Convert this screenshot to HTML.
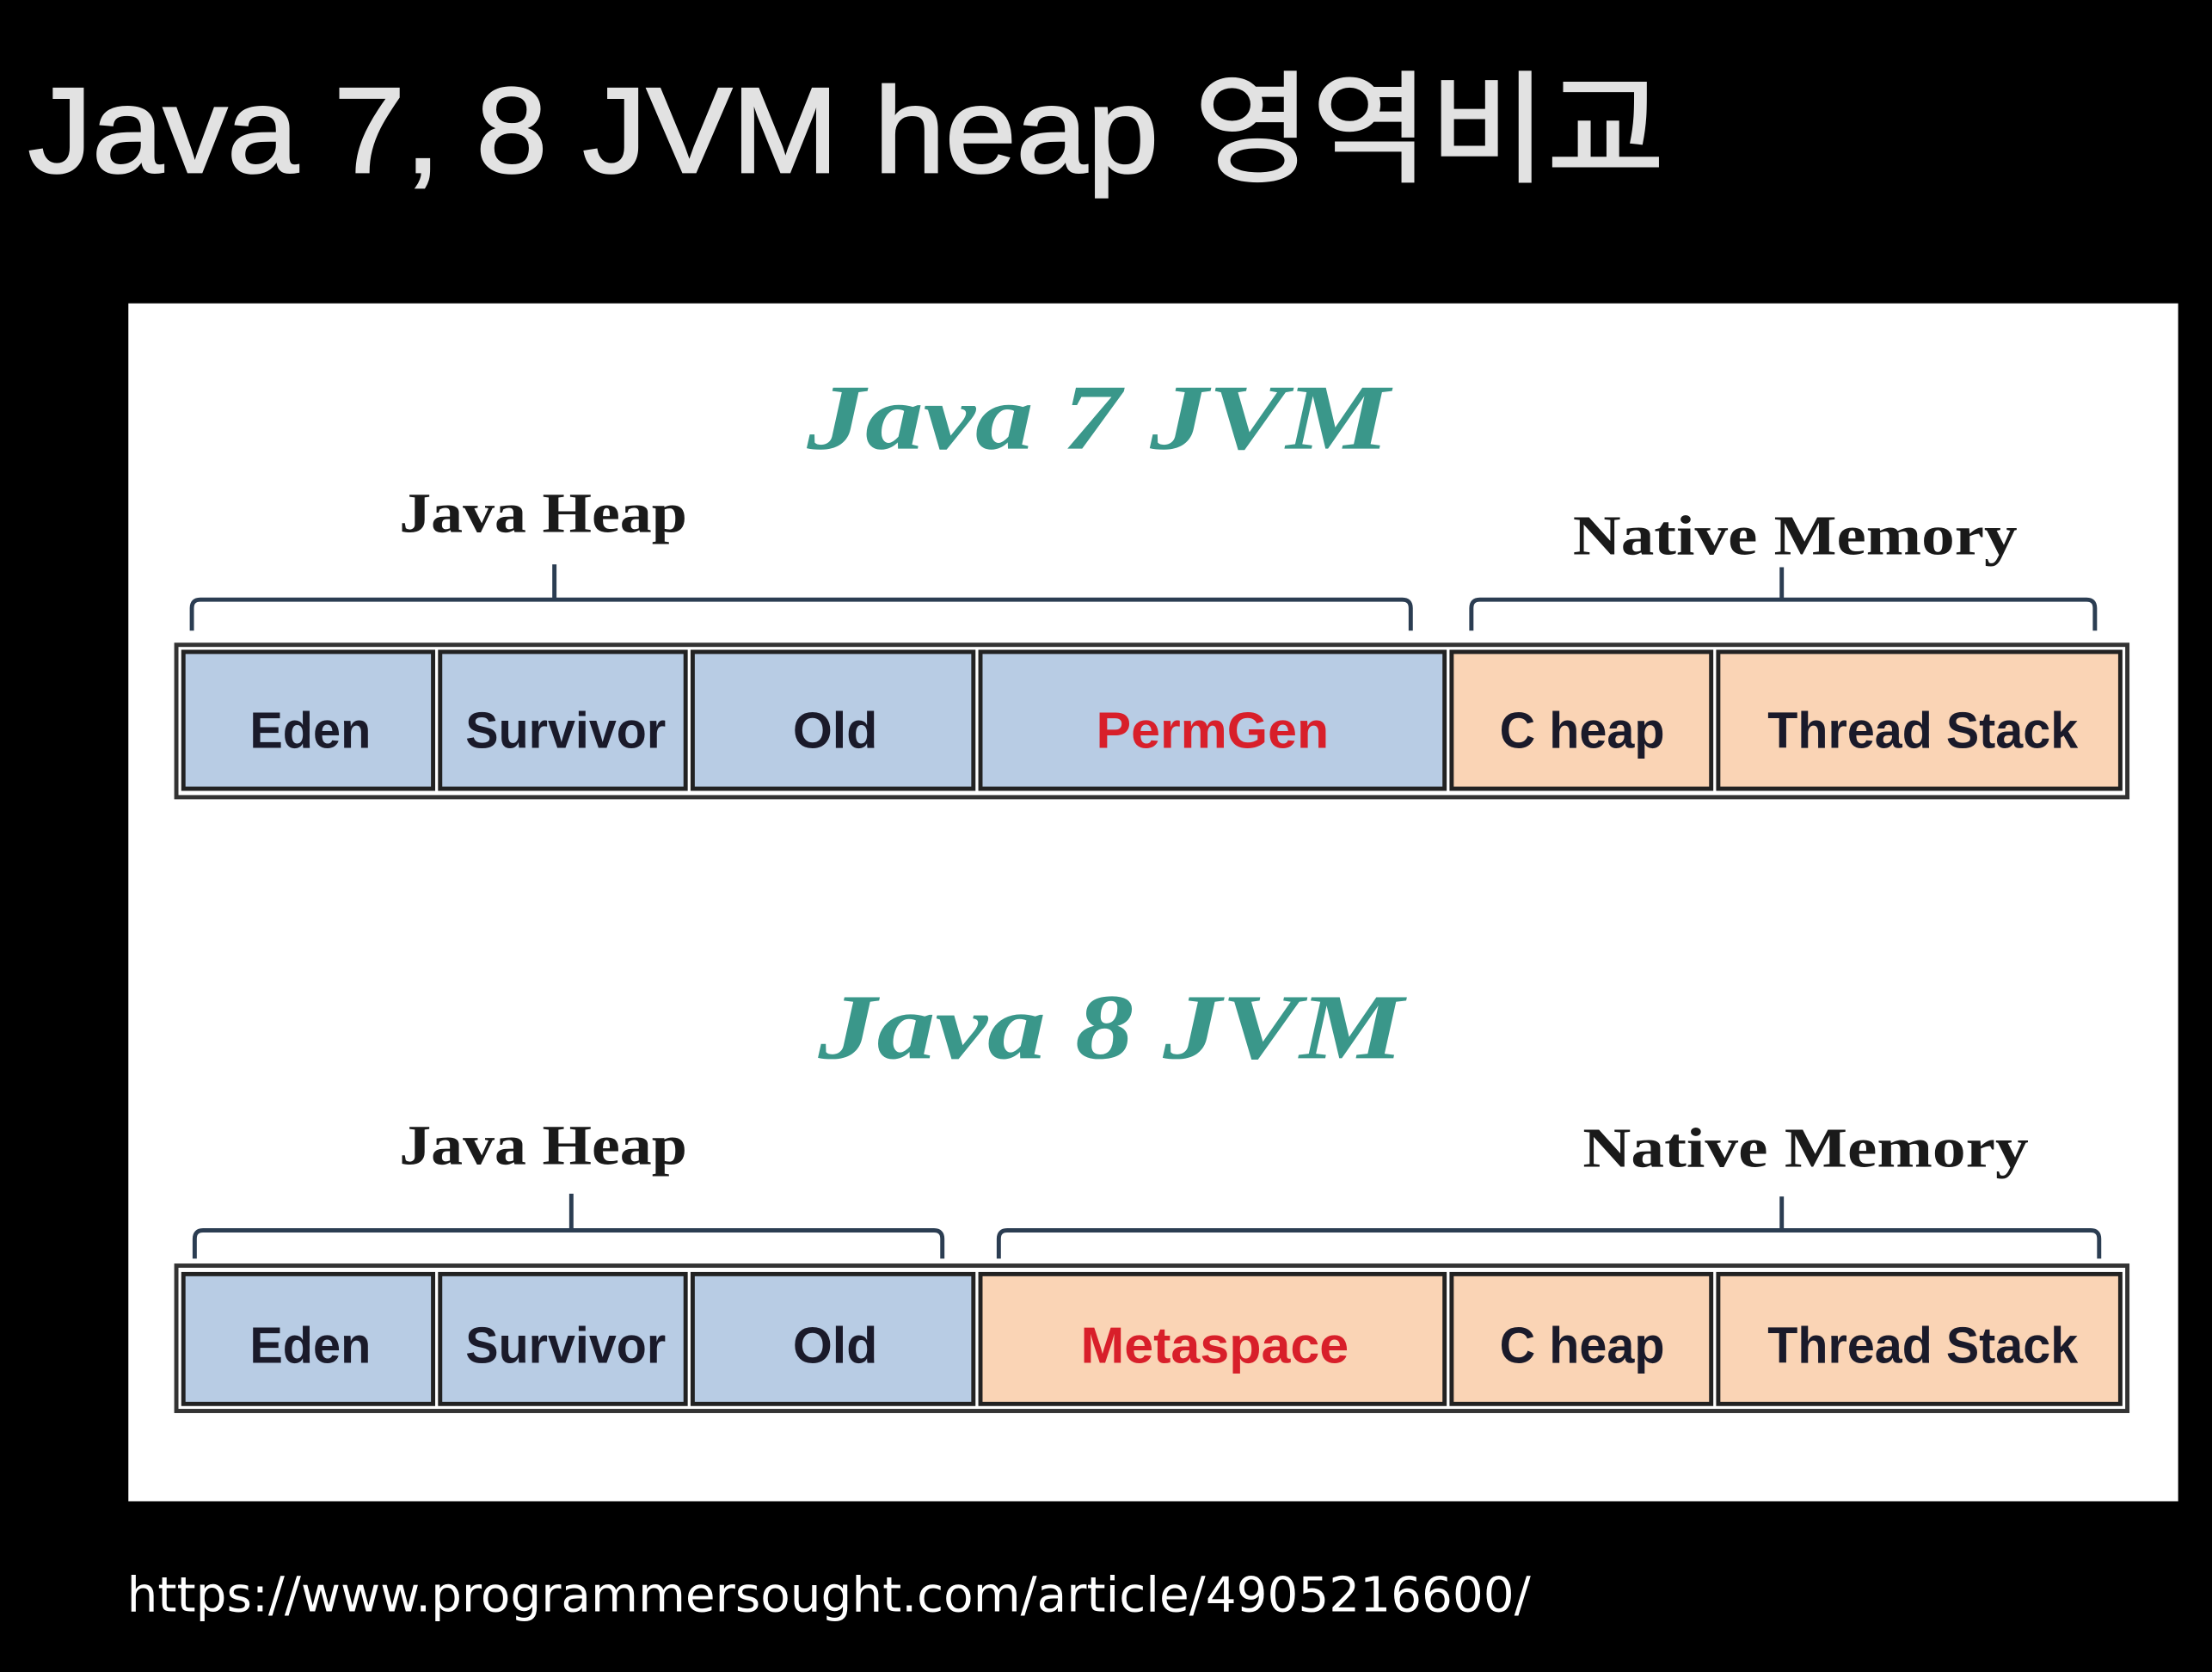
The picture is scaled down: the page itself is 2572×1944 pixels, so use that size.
<!DOCTYPE html>
<html><head><meta charset="utf-8"><style>
html,body{margin:0;padding:0;background:#000;}
svg{display:block;}
</style></head><body>
<svg width="2572" height="1944" viewBox="0 0 1568 1185" preserveAspectRatio="none" xmlns="http://www.w3.org/2000/svg">
<rect x="0" y="0" width="1568" height="1185" fill="#000"/>
<text x="20" y="122" font-family="Liberation Sans, Noto Sans CJK KR, sans-serif" font-size="86" fill="#e2e2e2" stroke="#e2e2e2" stroke-width="1.5" textLength="1160" lengthAdjust="spacingAndGlyphs">Java 7, 8 JVM heap 영역비교</text>
<rect x="91" y="215" width="1453" height="849" fill="#fff"/>

<g font-family="Liberation Serif, serif" font-weight="bold" font-style="italic" fill="#3a978a">
<text x="572" y="318" font-size="66" textLength="413" lengthAdjust="spacingAndGlyphs">Java 7 JVM</text>
<text x="580" y="750" font-size="66" textLength="415" lengthAdjust="spacingAndGlyphs">Java 8 JVM</text>
</g>
<g font-family="Liberation Serif, serif" font-weight="bold" fill="#1a1a1a" font-size="40">
<text x="283" y="377" textLength="204" lengthAdjust="spacingAndGlyphs">Java Heap</text>
<text x="1115" y="393" textLength="315" lengthAdjust="spacingAndGlyphs">Native Memory</text>
<text x="283" y="825" textLength="204" lengthAdjust="spacingAndGlyphs">Java Heap</text>
<text x="1122" y="827" textLength="316" lengthAdjust="spacingAndGlyphs">Native Memory</text>
</g>
<g fill="none" stroke="#2b3d52" stroke-width="3">
<path d="M136 447 V431 Q136 425 142 425 H994 Q1000 425 1000 431 V447"/>
<path d="M393 425 V400"/>
<path d="M1043 447 V431 Q1043 425 1049 425 H1479 Q1485 425 1485 431 V447"/>
<path d="M1263 425 V402"/>
<path d="M138 892 V878 Q138 872 144 872 H662 Q668 872 668 878 V892"/>
<path d="M405 872 V846"/>
<path d="M708 892 V878 Q708 872 714 872 H1482 Q1488 872 1488 878 V892"/>
<path d="M1263 872 V848"/>
</g>

<!-- bar 1 -->
<rect x="125" y="457" width="1383" height="108" fill="#fff" stroke="#333" stroke-width="3"/>
<g stroke="#222" stroke-width="3">
<rect x="130" y="462" width="177" height="97" fill="#b8cce4"/>
<rect x="312" y="462" width="174" height="97" fill="#b8cce4"/>
<rect x="491" y="462" width="199" height="97" fill="#b8cce4"/>
<rect x="695" y="462" width="329" height="97" fill="#b8cce4"/>
<rect x="1029" y="462" width="184" height="97" fill="#fad4b5"/>
<rect x="1218" y="462" width="285" height="97" fill="#fad4b5"/>
</g>
<!-- bar 2 -->
<rect x="125" y="897" width="1383" height="103" fill="#fff" stroke="#333" stroke-width="3"/>
<g stroke="#222" stroke-width="3">
<rect x="130" y="903" width="177" height="92" fill="#b8cce4"/>
<rect x="312" y="903" width="174" height="92" fill="#b8cce4"/>
<rect x="491" y="903" width="199" height="92" fill="#b8cce4"/>
<rect x="695" y="903" width="329" height="92" fill="#fad4b5"/>
<rect x="1029" y="903" width="184" height="92" fill="#fad4b5"/>
<rect x="1218" y="903" width="285" height="92" fill="#fad4b5"/>
</g>
<g font-family="Liberation Sans, sans-serif" font-weight="bold" font-size="36" fill="#1a1a2a">
<text x="177" y="530" textLength="86" lengthAdjust="spacingAndGlyphs">Eden</text>
<text x="330" y="530" textLength="142" lengthAdjust="spacingAndGlyphs">Survivor</text>
<text x="562" y="530" textLength="60" lengthAdjust="spacingAndGlyphs">Old</text>
<text x="777" y="530" textLength="165" lengthAdjust="spacingAndGlyphs" fill="#d81f2a">PermGen</text>
<text x="1063" y="530" textLength="117" lengthAdjust="spacingAndGlyphs">C heap</text>
<text x="1253" y="530" textLength="220" lengthAdjust="spacingAndGlyphs">Thread Stack</text>
<text x="177" y="966" textLength="86" lengthAdjust="spacingAndGlyphs">Eden</text>
<text x="330" y="966" textLength="142" lengthAdjust="spacingAndGlyphs">Survivor</text>
<text x="562" y="966" textLength="60" lengthAdjust="spacingAndGlyphs">Old</text>
<text x="766" y="966" textLength="190" lengthAdjust="spacingAndGlyphs" fill="#d81f2a">Metaspace</text>
<text x="1063" y="966" textLength="117" lengthAdjust="spacingAndGlyphs">C heap</text>
<text x="1253" y="966" textLength="220" lengthAdjust="spacingAndGlyphs">Thread Stack</text>
</g>
<text x="90" y="1142" font-family="DejaVu Sans, Liberation Sans, sans-serif" font-size="34" fill="#fff" textLength="995" lengthAdjust="spacingAndGlyphs">https://www.programmersought.com/article/4905216600/</text>
</svg>
</body></html>
